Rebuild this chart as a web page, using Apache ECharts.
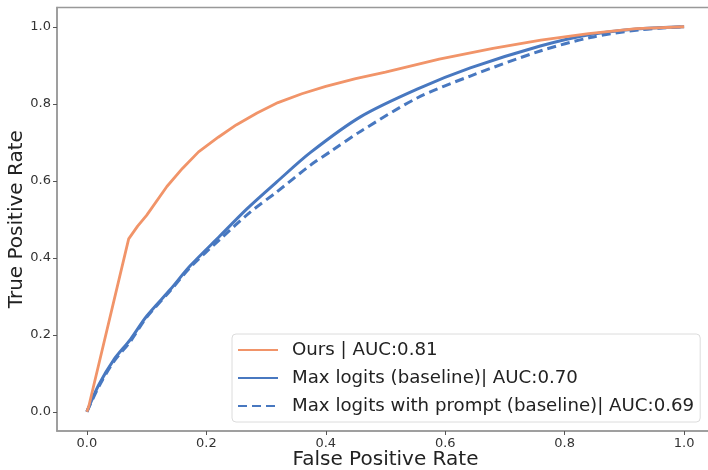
<!DOCTYPE html>
<html>
<head>
    <meta charset="utf-8">
    <title>ROC</title>
    <script src="https://cdn.jsdelivr.net/npm/echarts@6.0.0/dist/echarts.min.js"></script>
    <style>
        html, body { margin: 0; padding: 0; background: #fff; }
        #roc { width: 708px; height: 470px; }
    </style>
</head>
<body>
<div id="roc"></div>
<script>
    // tick positions
    var tickValues = [0, 0.2, 0.4, 0.6, 0.8, 1.0];

    // Ours
    var oursFpr = [0, 0.003, 0.07, 0.085, 0.10, 0.134, 0.16, 0.187, 0.22, 0.25, 0.285, 0.32, 0.36, 0.40, 0.45, 0.50, 0.59, 0.68, 0.76, 0.84, 0.92, 1.0];
    var oursTpr = [0, 0.013, 0.449, 0.482, 0.51, 0.585, 0.632, 0.675, 0.713, 0.745, 0.776, 0.803, 0.826, 0.845, 0.865, 0.882, 0.916, 0.944, 0.965, 0.982, 0.995, 1.0];

    // Max logits (baseline)
    var maxFpr = [0, 0.02, 0.045, 0.073, 0.10, 0.14, 0.173, 0.223, 0.268, 0.318, 0.374, 0.458, 0.553, 0.642, 0.759, 0.843, 0.926, 1.0];
    var maxTpr = [0, 0.07, 0.135, 0.188, 0.248, 0.318, 0.379, 0.457, 0.527, 0.597, 0.673, 0.766, 0.838, 0.893, 0.950, 0.980, 0.995, 1.0];

    // Max logits with prompt (baseline)
    var promptFpr = [0, 0.02, 0.045, 0.073, 0.10, 0.14, 0.173, 0.223, 0.274, 0.318, 0.374, 0.41, 0.458, 0.553, 0.642, 0.759, 0.843, 0.926, 1.0];
    var promptTpr = [0, 0.065, 0.13, 0.183, 0.245, 0.315, 0.375, 0.448, 0.519, 0.571, 0.64, 0.678, 0.728, 0.815, 0.872, 0.937, 0.972, 0.992, 1.0];

    function pairs(xs, ys) {
        var out = [];
        for (var i = 0; i < xs.length; i++) out.push([xs[i], ys[i]]);
        return out;
    }

    var orange = '#F19469';
    var blue = '#4878C0';
    var font = 'DejaVu Sans';

    var chart = echarts.init(document.getElementById('roc'));
    var option = {
        backgroundColor: '#fff',
        animation: false,
        textStyle: { fontFamily: font },
        grid: {
            left: 57, top: 7.5, width: 657, height: 423.5,
            outerBoundsMode: 'none', containLabel: false,
            show: true, borderColor: '#999', borderWidth: 1.5
        },
        legend: {
            orient: 'vertical',
            left: 232, top: 334,
            padding: [6, 6, 6, 5],
            backgroundColor: '#fff',
            borderColor: '#dcdcdc', borderWidth: 1, borderRadius: 4,
            itemWidth: 40, itemHeight: 14, itemGap: 8,
            itemStyle: { opacity: 0 },
            textStyle: { fontFamily: font, fontSize: 18.2, color: '#222', lineHeight: 20, padding: [0, 0, 0, 9] },
            data: ['Ours | AUC:0.81', 'Max logits (baseline)| AUC:0.70', 'Max logits with prompt (baseline)| AUC:0.69']
        },
        xAxis: {
            type: 'value', min: -0.05, max: 1.05,
            name: 'False Positive Rate', nameLocation: 'middle', nameGap: 19, nameMoveOverlap: false,
            nameTextStyle: { fontFamily: font, fontSize: 20, color: '#222' },
            splitLine: { show: false },
            axisLine: { show: true, onZero: false, lineStyle: { color: '#999', width: 1.5 } },
            axisTick: { show: true, length: 4, customValues: tickValues, lineStyle: { color: '#555' } },
            axisLabel: {
                customValues: tickValues, margin: 6, fontSize: 13, color: '#333', fontFamily: font,
                formatter: function (v) { return v.toFixed(1); }
            }
        },
        yAxis: {
            type: 'value', min: -0.05, max: 1.05,
            name: 'True Positive Rate', nameLocation: 'middle', nameGap: 30, nameRotate: 90, nameMoveOverlap: false,
            nameTextStyle: { fontFamily: font, fontSize: 20, color: '#222' },
            splitLine: { show: false },
            axisLine: { show: true, onZero: false, lineStyle: { color: '#999', width: 1.5 } },
            axisTick: { show: true, length: 4, customValues: tickValues, lineStyle: { color: '#555' } },
            axisLabel: {
                customValues: tickValues, margin: 6, fontSize: 13, color: '#333', fontFamily: font,
                formatter: function (v) { return v.toFixed(1); }
            }
        },
        series: [
            {
                name: 'Ours | AUC:0.81', type: 'line', symbol: 'none', smooth: false,
                data: pairs(oursFpr, oursTpr),
                lineStyle: { color: orange, width: 2.8 }, itemStyle: { color: orange }, z: 3
            },
            {
                name: 'Max logits (baseline)| AUC:0.70', type: 'line', symbol: 'none', smooth: 0.3,
                data: pairs(maxFpr, maxTpr),
                lineStyle: { color: blue, width: 3 }, itemStyle: { color: blue }, z: 2
            },
            {
                name: 'Max logits with prompt (baseline)| AUC:0.69', type: 'line', symbol: 'none', smooth: 0.3,
                data: pairs(promptFpr, promptTpr),
                lineStyle: { color: blue, width: 3, type: [9, 5] }, itemStyle: { color: blue }, z: 2
            }
        ]
    };
    chart.setOption(option);
</script>
</body>
</html>
